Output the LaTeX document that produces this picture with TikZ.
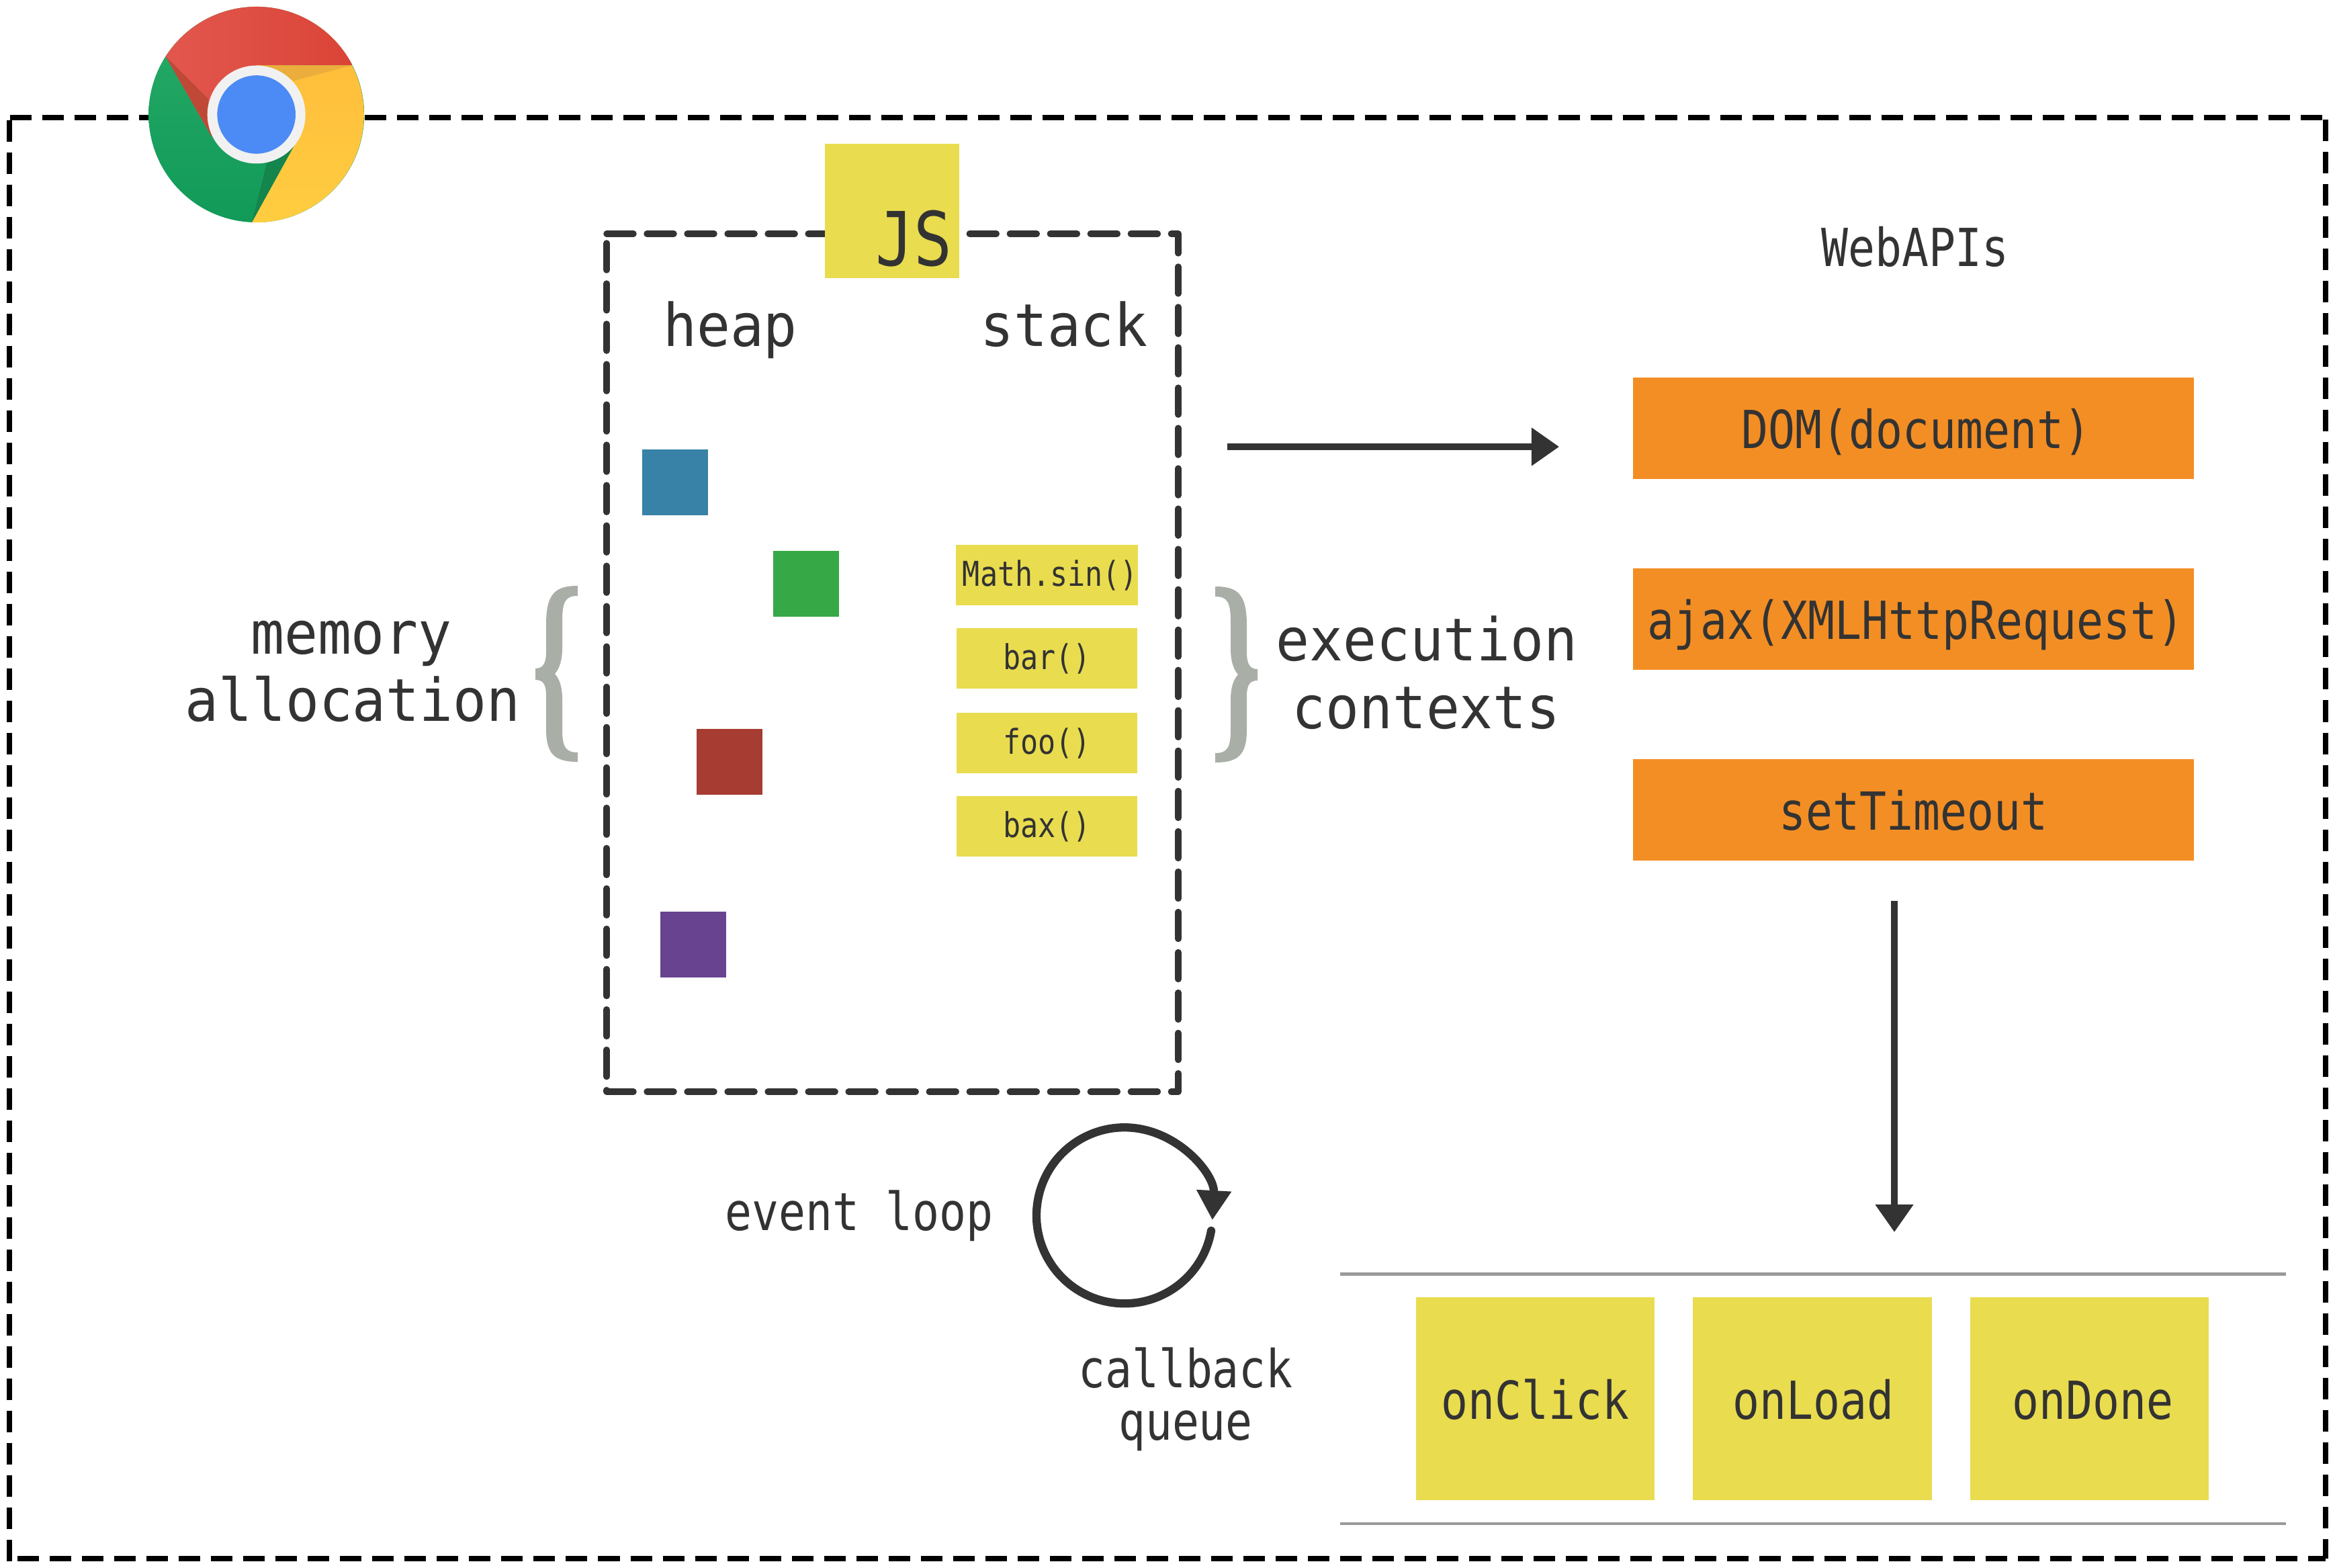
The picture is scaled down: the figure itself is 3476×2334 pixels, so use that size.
\documentclass[tikz,border=0pt]{standalone}
\usepackage{xcolor}
\usepackage{fontspec}
\usepackage{tikz}
\usetikzlibrary{arrows.meta}
\newfontfamily\wideMono[FakeStretch=0.944]{DejaVu Sans Mono}
\newfontfamily\narrowMono[FakeStretch=0.85]{DejaVu Sans Mono}
\definecolor{ink}{HTML}{333333}
\definecolor{lemon}{HTML}{E9DC4F}
\definecolor{tangerine}{HTML}{F38E24}
\definecolor{sage}{HTML}{A9AFA7}
\definecolor{rule}{HTML}{999999}
\definecolor{heapBlue}{HTML}{3782A6}
\definecolor{heapGreen}{HTML}{37A846}
\definecolor{heapRed}{HTML}{A63C32}
\definecolor{heapPurple}{HTML}{684490}
\definecolor{logoGreenDk}{HTML}{119A58}
\definecolor{logoGreenLt}{HTML}{28AA68}
\definecolor{logoGreenSh}{HTML}{14854C}
\definecolor{logoRedLt}{HTML}{E2574E}
\definecolor{logoRedDk}{HTML}{DB4437}
\definecolor{logoRedSh}{HTML}{BF4936}
\definecolor{logoYellow}{HTML}{FFCD40}
\definecolor{logoAmber}{HTML}{FFBE3B}
\definecolor{logoAmberSh}{HTML}{EBAE3C}
\definecolor{logoRing}{HTML}{F1F1F1}
\definecolor{logoBlue}{HTML}{4C8BF5}
\tikzset{
  browserDash/.style={draw=black, line width=2.28pt, dash pattern=on 9.105pt off 4.552pt},
  engineDash/.style={draw=ink, line width=2.7pt, line cap=round, dash pattern=on 11.38pt off 5.69pt},
  heapBox/.style={minimum width=0.98cm, minimum height=0.98cm, inner sep=0pt},
  stackBox/.style={fill=lemon, text=ink, font=\narrowMono\fontsize{14.5}{17}\selectfont,
    text height=9.4pt, text depth=0pt, minimum width=2.69cm, minimum height=0.9cm, inner sep=0pt},
  apiBox/.style={fill=tangerine, text=ink, font=\narrowMono\fontsize{22.2}{26}\selectfont,
    text height=16.8pt, text depth=0pt, minimum width=8.35cm, minimum height=1.5cm, inner sep=0pt},
  queueBox/.style={fill=lemon, text=ink, font=\narrowMono\fontsize{22.2}{26}\selectfont,
    text height=17.2pt, text depth=0pt, minimum width=3.55cm, minimum height=3.01cm, inner sep=0pt},
  bigLabel/.style={text=ink, anchor=base, inner sep=0pt, font=\wideMono\fontsize{25}{30}\selectfont},
  smallLabel/.style={text=ink, anchor=base, inner sep=0pt, font=\narrowMono\fontsize{22.2}{26}\selectfont},
  flowArrow/.style={draw=ink, line width=2.6pt, -{Triangle[length=11.7pt,width=15.6pt]}},
  queueRule/.style={draw=rule, line width=1.4pt},
  curlyBrace/.pic={
    \fill[sage] (63,-131) .. controls (28,-131) and (16,-118) .. (16,-73) -- (16,-33)
      .. controls (16,-15) and (11,-8) .. (0,-8) -- (0,9)
      .. controls (11,9) and (16,15) .. (16,32) -- (16,82)
      .. controls (16,119) and (28,131) .. (63,131) -- (63,117)
      .. controls (45,117) and (40,109) .. (40,82) -- (40,37)
      .. controls (40,22) and (37,9) .. (29,0)
      .. controls (37,-9) and (40,-23) .. (40,-38) -- (40,-78)
      .. controls (40,-108) and (45,-116) .. (63,-116) -- cycle;
  }
}

\begin{document}
\begin{tikzpicture}[x=0.01cm, y=-0.01cm]
  \useasboundingbox (0,0) rectangle (3476,2334);

  \draw[browserDash] (3457,175) -- (14,175) (3462,178) -- (3462,2320)
    (26,2320) -- (3462,2320) (14,2324) -- (14,175);

  % chrome logo
  \shade[bottom color=logoGreenDk, top color=logoGreenLt] (381.7,170.5) circle (160.5);
  \shade[left color=logoRedLt, right color=logoRedDk] (246.7,84) arc[start angle=212.6, end angle=332.8, radius=160.5]
    -- (381.7,97.3) -- (315,203) -- cycle;
  \fill[logoRedSh] (246.7,84) -- (315,203) -- (310,147) -- cycle;
  \shade[top color=logoAmber, middle color=logoYellow, bottom color=logoYellow] (524,97.3)
    arc[start angle=332.8, end angle=452.4, radius=160.5] -- (440,213) -- (381.7,97.3) -- cycle;
  \fill[logoAmberSh] (524,97.3) -- (438,120) -- (381.7,97.3) -- cycle;
  \fill[logoGreenSh] (375,331) -- (440,213) -- (397,243) -- cycle;
  \fill[logoRing] (381.7,170.5) circle (73);
  \fill[logoBlue] (381.7,170.5) circle (58.3);

  % js engine
  \draw[engineDash] (903,348) -- (1754,348) (903,362) -- (903,1625) (903,1625) -- (1754,1625);
  \draw[engineDash, dash phase=3.13pt] (1754,348) -- (1754,1625);
  \node[fill=lemon, minimum width=2cm, minimum height=2cm, inner sep=0pt] (jsBox) at (1328,314) {};
  \node[text=ink, anchor=base east, inner sep=0pt, font=\narrowMono\fontsize{31.6}{38}\selectfont] (jsText) at (1418,396) {JS};

  \node[bigLabel] (heapText) at (1087,516) {heap};
  \node[bigLabel] (stackText) at (1584,516) {stack};

  \node[heapBox, fill=heapBlue] (blueBox) at (1005,718) {};
  \node[heapBox, fill=heapGreen] (greenBox) at (1200,869) {};
  \node[heapBox, fill=heapRed] (redBox) at (1086,1134) {};
  \node[heapBox, fill=heapPurple] (purpleBox) at (1032,1406) {};

  \node[stackBox] (sinBox) at (1558.5,856) {\hspace*{2.8pt}Math.sin()};
  \node[stackBox] (barBox) at (1558.5,980) {bar()};
  \node[stackBox] (fooBox) at (1558.5,1106) {foo()};
  \node[stackBox] (baxBox) at (1558.5,1230) {bax()};

  \pic (memoryBrace) at (797,1003) {curlyBrace};
  \pic[xscale=-1] (contextBrace) at (1872,1004) {curlyBrace};

  \node[bigLabel] (memoryText) at (523,973) {memory};
  \node[bigLabel] (allocText) at (525,1073) {allocation};
  \node[bigLabel] (execText) at (2124,983) {execution};
  \node[bigLabel] (contextText) at (2123,1084) {contexts};

  % web apis
  \node[smallLabel] (webText) at (2851,397) {WebAPIs};
  \node[apiBox] (domBox) at (2848.5,637.5) {\hspace*{2.3pt}DOM(document)};
  \node[apiBox] (ajaxBox) at (2848.5,921.5) {\hspace*{1.7pt}ajax(XMLHttpRequest)};
  \node[apiBox] (timeoutBox) at (2848.5,1205.5) {setTimeout};

  \coordinate (engineOut) at (1827,665);
  \coordinate (apiIn) at (2321,665);
  \draw[flowArrow] (engineOut) -- (apiIn);

  \coordinate (apiOut) at (2820,1341);
  \coordinate (queueIn) at (2820,1834);
  \draw[flowArrow] (apiOut) -- (queueIn);

  % event loop
  \node[smallLabel] (loopText) at (1279,1831) {event loop};
  \coordinate (loopStart) at (1803,1832);
  \draw[draw=ink, line width=3.5pt, line cap=round, -{Triangle[length=12.5pt,width=14pt]}]
    (loopStart) arc[start angle=10, end angle=363, radius=131];
  \node[smallLabel] (callbackText) at (1765,2065) {callback};
  \node[smallLabel] (queueText) at (1765,2143) {queue};

  % callback queue
  \coordinate (ruleTopL) at (1995,1896.5);
  \coordinate (ruleTopR) at (3403,1896.5);
  \coordinate (ruleBotL) at (1995,2268);
  \coordinate (ruleBotR) at (3403,2268);
  \draw[queueRule] (ruleTopL) -- (ruleTopR);
  \draw[queueRule] (ruleBotL) -- (ruleBotR);

  \node[queueBox] (clickBox) at (2285.5,2082) {onClick};
  \node[queueBox] (loadBox) at (2698,2082) {\hspace*{1pt}onLoad};
  \node[queueBox] (doneBox) at (3110.5,2082) {\hspace*{2.8pt}onDone};
\end{tikzpicture}
\end{document}
